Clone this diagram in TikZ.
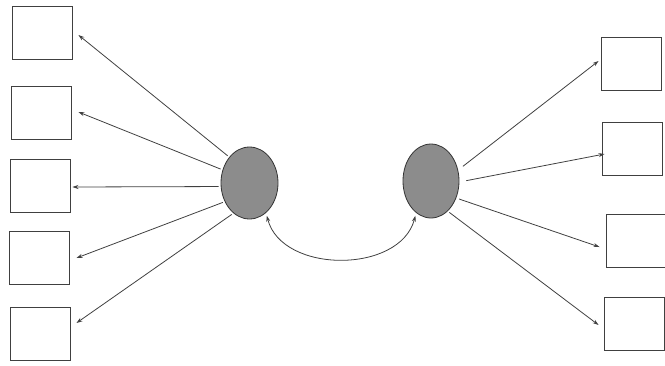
\documentclass[tikz,border=0pt]{standalone}
\usetikzlibrary{shapes.geometric,arrows.meta}
\begin{document}
\begin{tikzpicture}[x=1pt,y=-1pt,
  line col/.style={draw=black!75},
  box/.style={line col, line width=0.9pt, minimum width=60pt, minimum height=53pt, inner sep=0pt, rectangle},
  blob/.style={ellipse, draw=black!80, line width=0.8pt, fill=black!45, minimum width=57pt, minimum height=72pt, inner sep=0pt},
  conn/.style={line col, line width=0.8pt, -{Stealth[length=6pt,width=4pt]}},
  dconn/.style={line col, line width=0.8pt, {Stealth[length=6pt,width=4pt]}-{Stealth[length=6pt,width=4pt]}}
]
\useasboundingbox (0,0) rectangle (665,365);
% left boxes
\node[box] (b1) at (42,32.5) {};
\node[box] (b2) at (41,113) {};
\node[box] (b3) at (40,185.5) {};
\node[box] (b4) at (39,258) {};
\node[box] (b5) at (40,333.5) {};
% right boxes
\node[box] (r1) at (631,64) {};
\node[box] (r2) at (632,149) {};
\node[box] (r3) at (636,240.5) {};
\node[box] (r4) at (634,323.5) {};
% ellipses
\node[blob] (L) at (249.5,183) {};
\node[blob, minimum width=56pt, minimum height=74pt] (R) at (431,181) {};
% left arrows
\draw[conn, shorten <=2pt] (L.128) -- ([shift={(6,2.5)}]b1.east);
\draw[conn, shorten <=2pt] (L.154) -- ([shift={(7,-1)}]b2.east);
\draw[conn, shorten <=2pt] (L.187) -- ([shift={(2,1.5)}]b3.east);
\draw[conn, shorten <=2pt] (L.217) -- ([shift={(7,0)}]b4.east);
\draw[conn, shorten <=2pt] (L.242) -- ([shift={(6,-10.5)}]b5.east);
% right arrows
\draw[conn, shorten <=6pt] (R.22) -- ([shift={(-2,-3)}]r1.west);
\draw[conn, shorten <=7pt] (R.358) -- ([shift={(3,5)}]r2.west);
\draw[conn, shorten <=3pt] (R.326) -- ([shift={(-6,6.5)}]r3.west);
\draw[conn, shorten <=2pt] (R.299) -- ([shift={(-5,1.5)}]r4.west);
% curved double arrow
\draw[dconn, shorten <=3pt, shorten >=3pt] (L.299) .. controls (282,274) and (400,274) .. (R.245);
\end{tikzpicture}
\end{document}
